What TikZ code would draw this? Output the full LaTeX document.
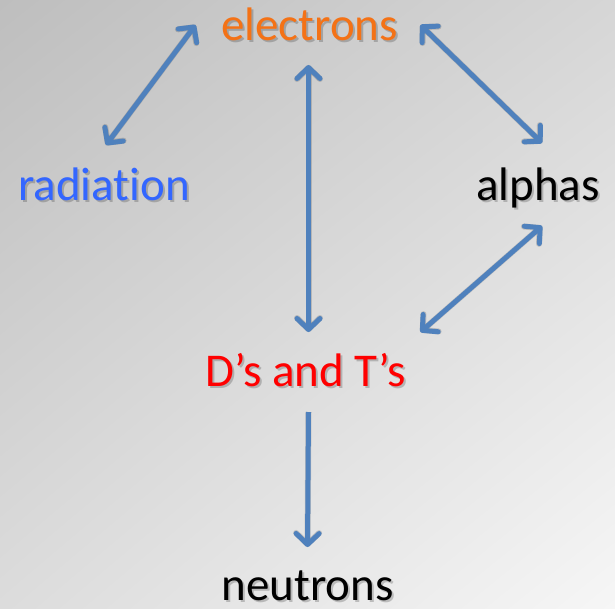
\documentclass[tikz,border=0pt]{standalone}
\usepackage{fontspec}
\setmainfont[Ligatures=NoCommon]{Carlito}
\usetikzlibrary{arrows.meta,calc,shadings}
\definecolor{arrowblue}{RGB}{79,129,189}
\definecolor{elecorange}{RGB}{244,114,22}
\definecolor{radblue}{RGB}{51,102,255}
\definecolor{dtred}{RGB}{255,0,0}
\definecolor{bgul}{RGB}{190,190,190}
\definecolor{bgur}{RGB}{214,214,214}
\definecolor{bgll}{RGB}{220,220,220}
\definecolor{bglr}{RGB}{246,246,246}
\begin{document}
\begin{tikzpicture}[x=1pt,y=-1pt,
  lbl/.style={inner sep=0pt,anchor=base,font=\fontsize{47}{56}\selectfont},
  shtxt/.style={lbl,text=black,opacity=0.2},
  conn/.style={draw=arrowblue,line width=5pt,line join=round,
     arrows={-Straight Barb[length=11pt,width=23pt,line width=5pt,round]}},
  dconn/.style={conn,arrows={Straight Barb[length=11pt,width=23pt,line width=5pt,round]-Straight Barb[length=11pt,width=23pt,line width=5pt,round]}},
  shconn/.style={draw=black,opacity=0.15,line width=6pt,line join=round,
     arrows={-Straight Barb[length=11pt,width=23pt,line width=6pt,round]}},
  dshconn/.style={shconn,arrows={Straight Barb[length=11pt,width=23pt,line width=6pt,round]-Straight Barb[length=11pt,width=23pt,line width=6pt,round]}}
]
\useasboundingbox (0,0) rectangle (615,608);
\shade[upper left=bgul,upper right=bgur,lower left=bgll,lower right=bglr]
  (0,0) rectangle (615,608);

% text shadows
\node[shtxt] (elecsh) at (311.5,42.5) {electrons};
\node[shtxt] (radsh) at (106,202.5) {radiation};
\node[shtxt] (alphsh) at (540,202.5) {alphas};
\node[shtxt] (dtsh) at (307.5,388.5) {D’s and T’s};
\node[shtxt] (neutsh) at (309.5,602.5) {neutrons};

% labels
\node[lbl,text=elecorange] (elec) at (309.5,40) {electrons};
\node[lbl,text=radblue] (rad) at (104,200) {radiation};
\node[lbl,text=black] (alph) at (538,200) {alphas};
\node[lbl,text=dtred] (dt) at (305.5,386) {D’s and T’s};
\node[lbl,text=black] (neut) at (307.5,600) {neutrons};

% arrow end points
\coordinate (re1) at ($(rad.base)+(2,-55)$);
\coordinate (re2) at ($(elec.base)+(-114,-15)$);
\coordinate (ea1) at ($(elec.base)+(111,-15)$);
\coordinate (ea2) at ($(alph.base)+(4,-57)$);
\coordinate (ed1) at ($(elec.base)+(-1,25)$);
\coordinate (ed2) at ($(dt.base)+(3,-54)$);
\coordinate (ad1) at ($(alph.base)+(4,26)$);
\coordinate (ad2) at ($(dt.base)+(115,-54)$);
\coordinate (dn1) at ($(dt.base)+(3,26)$);
\coordinate (dn2) at ($(neut.base)+(0,-53)$);

% arrow shadows
\begin{scope}[shift={(2,2.5)}]
\draw[dshconn] (re1) -- (re2);
\draw[dshconn] (ea1) -- (ea2);
\draw[dshconn] (ed1) -- (ed2);
\draw[dshconn] (ad1) -- (ad2);
\draw[shconn] (dn1) -- (dn2);
\end{scope}

% arrows
\draw[dconn] (re1) -- (re2);
\draw[dconn] (ea1) -- (ea2);
\draw[dconn] (ed1) -- (ed2);
\draw[dconn] (ad1) -- (ad2);
\draw[conn] (dn1) -- (dn2);
\end{tikzpicture}
\end{document}
